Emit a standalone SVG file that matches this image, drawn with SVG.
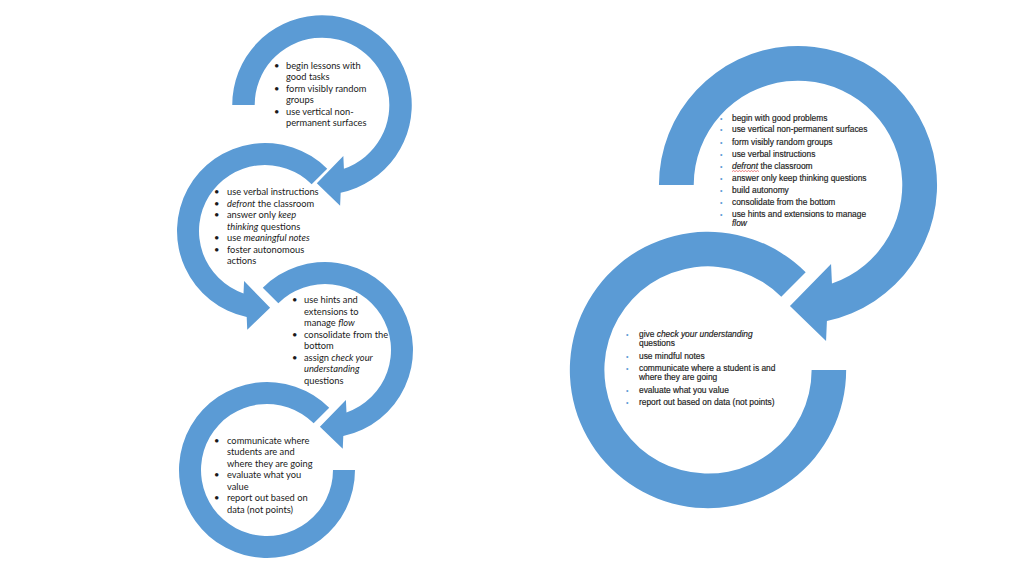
<svg xmlns="http://www.w3.org/2000/svg" width="1024" height="576" viewBox="0 0 1024 576">
<style>
.shape{fill:#5B9BD5}
.t{font-family:Lato,"Liberation Sans",sans-serif;font-size:9.3px;fill:#1a1a1a}
.r{font-family:"Liberation Sans",Arial,sans-serif;font-size:8.4px;fill:#1e1e1e;stroke:#1e1e1e;stroke-width:0.18px}
.rb{font-family:"Liberation Sans",Arial,sans-serif;font-size:7px;fill:#5B9BD5}
.i{font-style:italic}
</style>
<defs>
<path id="arc180" d="M -88 0 A 88 88 0 1 1 18.30 86.08 L 17.76 98.72 L -5.09 76.63 L 20.92 50.0 L 21.49 62.40 A 66 66 0 1 0 -66 0 Z"/>
<path id="arc225" d="M -62.23 -62.23 A 88 88 0 1 1 18.30 86.08 L 17.76 98.72 L -5.09 76.63 L 20.92 50.0 L 21.49 62.40 A 66 66 0 1 0 -46.67 -46.67 Z"/>
<path id="ring" d="M 88 0 A 88 88 0 1 1 62.23 -62.23 L 46.67 -46.67 A 66 66 0 1 0 66 0 Z"/>
</defs>
<rect width="1024" height="576" fill="#ffffff"/>
<g id="connectors"></g>
<g id="node-left-1">
<use href="#arc180" class="shape" transform="translate(322,105) scale(1.02)"/>
<text class="t"><tspan x="274" y="68.5">•</tspan><tspan x="286" y="68.5">begin lessons with</tspan><tspan x="286" y="80">good tasks</tspan><tspan x="274" y="91.5">•</tspan><tspan x="286" y="91.5">form visibly random</tspan><tspan x="286" y="102.5">groups</tspan><tspan x="274" y="114.5">•</tspan><tspan x="286" y="114.5">use vertical non-</tspan><tspan x="286" y="126">permanent surfaces</tspan></text>
</g>
<g id="node-left-2">
<use href="#arc225" class="shape" transform="translate(265,231) scale(-1,1)"/>
<text class="t"><tspan x="214" y="195">•</tspan><tspan x="227" y="195">use verbal instructions</tspan><tspan x="214" y="206.5">•</tspan><tspan x="227" y="206.5" class="i">defront</tspan><tspan> the classroom</tspan><tspan x="214" y="218">•</tspan><tspan x="227" y="218">answer only </tspan><tspan class="i">keep</tspan><tspan x="227" y="229.5" class="i">thinking</tspan><tspan> questions</tspan><tspan x="214" y="241">•</tspan><tspan x="227" y="241">use </tspan><tspan class="i">meaningful notes</tspan><tspan x="214" y="252.5">•</tspan><tspan x="227" y="252.5">foster autonomous</tspan><tspan x="227" y="264">actions</tspan></text>
</g>
<g id="node-left-3">
<use href="#arc225" class="shape" transform="translate(325,350)"/>
<text class="t"><tspan x="292" y="303">•</tspan><tspan x="304" y="303">use hints and</tspan><tspan x="304" y="314.5">extensions to</tspan><tspan x="304" y="326">manage </tspan><tspan class="i">flow</tspan><tspan x="292" y="337.5">•</tspan><tspan x="304" y="337.5">consolidate from the</tspan><tspan x="304" y="349">bottom</tspan><tspan x="292" y="360.5">•</tspan><tspan x="304" y="360.5">assign </tspan><tspan class="i">check your</tspan><tspan x="304" y="372" class="i">understanding</tspan><tspan x="304" y="383.5">questions</tspan></text>
</g>
<g id="node-left-4">
<use href="#ring" class="shape" transform="translate(267,470)"/>
<text class="t"><tspan x="214" y="443.5">•</tspan><tspan x="227" y="443.5">communicate where</tspan><tspan x="227" y="455">students are and</tspan><tspan x="227" y="466.5">where they are going</tspan><tspan x="214" y="478">•</tspan><tspan x="227" y="478">evaluate what you</tspan><tspan x="227" y="489.5">value</tspan><tspan x="214" y="501">•</tspan><tspan x="227" y="501">report out based on</tspan><tspan x="227" y="512.5">data (not points)</tspan></text>
</g>
<g id="node-right-1">
<use href="#arc180" class="shape" transform="translate(798,185) scale(1.58)"/>
<text class="rb"><tspan x="720" y="120.5">•</tspan><tspan x="720" y="132">•</tspan><tspan x="720" y="144.5">•</tspan><tspan x="720" y="157">•</tspan><tspan x="720" y="169">•</tspan><tspan x="720" y="180.5">•</tspan><tspan x="720" y="193">•</tspan><tspan x="720" y="204.5">•</tspan><tspan x="720" y="217">•</tspan></text>
<text class="r"><tspan x="732" y="120.5">begin with good problems</tspan><tspan x="732" y="132">use vertical non-permanent surfaces</tspan><tspan x="732" y="144.5">form visibly random groups</tspan><tspan x="732" y="157">use verbal instructions</tspan><tspan x="732" y="169" class="i">defront</tspan><tspan> the classroom</tspan><tspan x="732" y="180.5">answer only keep thinking questions</tspan><tspan x="732" y="193">build autonomy</tspan><tspan x="732" y="204.5">consolidate from the bottom</tspan><tspan x="732" y="217">use hints and extensions to manage</tspan><tspan x="732" y="226" class="i">flow</tspan></text>
<path d="M732 171.6 l1.5 -1 l1.5 1 l1.5 -1 l1.5 1 l1.5 -1 l1.5 1 l1.5 -1 l1.5 1 l1.5 -1 l1.5 1 l1.5 -1 l1.5 1 l1.5 -1 l1.5 1 l1.5 -1 l1.5 1 l1.5 -1 l1.5 1" fill="none" stroke="#e03030" stroke-width="0.6"/>
</g>
<g id="node-right-2">
<use href="#ring" class="shape" transform="translate(708,370) scale(1.57)"/>
<text class="rb"><tspan x="626" y="336.5">•</tspan><tspan x="626" y="358.5">•</tspan><tspan x="626" y="370.5">•</tspan><tspan x="626" y="392.5">•</tspan><tspan x="626" y="404.5">•</tspan></text>
<text class="r"><tspan x="639" y="336.5">give </tspan><tspan class="i">check your understanding</tspan><tspan x="639" y="345.5">questions</tspan><tspan x="639" y="358.5">use mindful notes</tspan><tspan x="639" y="370.5">communicate where a student is and</tspan><tspan x="639" y="380">where they are going</tspan><tspan x="639" y="392.5">evaluate what you value</tspan><tspan x="639" y="404.5">report out based on data (not points)</tspan></text>
</g>
</svg>
